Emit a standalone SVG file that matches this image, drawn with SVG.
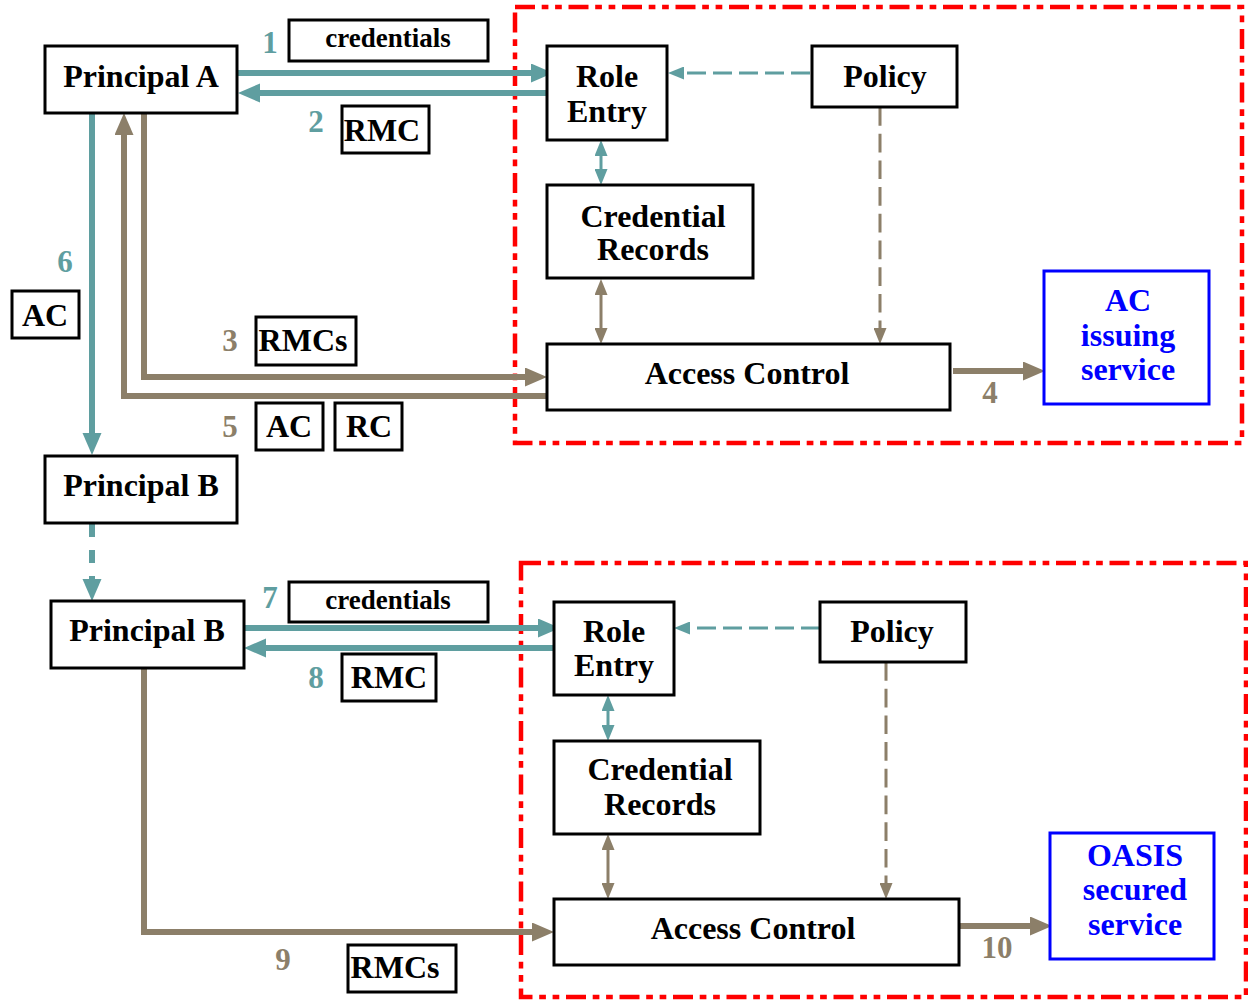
<svg xmlns="http://www.w3.org/2000/svg" width="1248" height="1003" viewBox="0 0 1248 1003">
<style>
  .box{fill:#fff;stroke:#000;stroke-width:3}
  .svc{fill:#fff;stroke:#0000FF;stroke-width:3}
  .zone{fill:none;stroke:#FF0000;stroke-width:4.5;stroke-dasharray:20 6.7 6.7 6.7 6.7 6.7}
  text{font-family:"Liberation Serif","Times New Roman",serif;font-weight:bold;text-anchor:middle}
  .t{font-size:32px;fill:#000}
  .tc{font-size:27px;fill:#000}
  .tb{font-size:32px;fill:#0000FF}
  .nt{font-size:31px;fill:#5F9EA0}
  .nb{font-size:31px;fill:#8C7F69}
  .teal{fill:none;stroke:#5F9EA0;stroke-width:6}
  .brown{fill:none;stroke:#8C7F69;stroke-width:6}
  .tealthin{fill:none;stroke:#5F9EA0;stroke-width:3}
  .brownthin{fill:none;stroke:#8C7F69;stroke-width:3}
  .dashT{stroke-dasharray:19 7}
  .dashB{stroke-dasharray:18.7 8}
  .dashV{stroke-dasharray:13 13}
</style>
<defs>
  <marker id="tL" markerUnits="userSpaceOnUse" markerWidth="23" markerHeight="20" refX="0" refY="9.5" orient="auto-start-reverse"><path d="M0,0 L22,9.5 L0,19 z" fill="#5F9EA0"/></marker>
  <marker id="bL" markerUnits="userSpaceOnUse" markerWidth="23" markerHeight="20" refX="0" refY="9.5" orient="auto-start-reverse"><path d="M0,0 L22,9.5 L0,19 z" fill="#8C7F69"/></marker>
  <marker id="tS" markerUnits="userSpaceOnUse" markerWidth="17" markerHeight="13" refX="0" refY="6.5" orient="auto-start-reverse"><path d="M0,0 L16,6.5 L0,13 z" fill="#5F9EA0"/></marker>
  <marker id="bS" markerUnits="userSpaceOnUse" markerWidth="17" markerHeight="13" refX="0" refY="6.5" orient="auto-start-reverse"><path d="M0,0 L16,6.5 L0,13 z" fill="#8C7F69"/></marker>
</defs>
<rect width="1248" height="1003" fill="#fff"/>

<!-- zones -->
<rect class="zone" x="515" y="7" width="727" height="436"/>
<rect class="zone" x="521" y="563" width="725" height="434"/>

<g id="connectors">
  <!-- top -->
  <path class="teal" d="M237,73 H531" marker-end="url(#tL)"/>
  <path class="teal" d="M547,93 H260" marker-end="url(#tL)"/>
  <path class="tealthin dashT" d="M810,73 H684" marker-end="url(#tS)"/>
  <path class="tealthin" d="M601,156 V169" marker-start="url(#tS)" marker-end="url(#tS)"/>
  <path class="brownthin" d="M601,295 V328" marker-start="url(#bS)" marker-end="url(#bS)"/>
  <path class="brownthin dashB" d="M880,107 V328" marker-end="url(#bS)"/>
  <path class="brown" d="M144,113 V377 H525" marker-end="url(#bL)"/>
  <path class="brown" d="M547,396 H124 V135" marker-end="url(#bL)"/>
  <path class="brown" d="M953,371 H1023" marker-end="url(#bL)"/>
  <path class="teal" d="M92,113 V433" marker-end="url(#tL)"/>
  <path class="teal dashV" d="M92,524 V579" marker-end="url(#tL)"/>
  <!-- bottom -->
  <path class="teal" d="M244,628 H538" marker-end="url(#tL)"/>
  <path class="teal" d="M554,648 H266" marker-end="url(#tL)"/>
  <path class="tealthin dashT" d="M820,628 H690" marker-end="url(#tS)"/>
  <path class="tealthin" d="M608,711 V725" marker-start="url(#tS)" marker-end="url(#tS)"/>
  <path class="brownthin" d="M608,850 V883" marker-start="url(#bS)" marker-end="url(#bS)"/>
  <path class="brownthin dashB" d="M886,662 V883" marker-end="url(#bS)"/>
  <path class="brown" d="M144,668 V932 H532" marker-end="url(#bL)"/>
  <path class="brown" d="M960,926 H1030" marker-end="url(#bL)"/>
</g>

<!-- top section nodes -->
<g id="principalA"><rect class="box" x="45" y="46" width="192" height="67"/><text class="t" x="141" y="87">Principal A</text></g>
<g id="credLabel1"><rect class="box" x="289" y="20" width="199" height="41"/><text class="tc" x="388" y="47">credentials</text></g>
<g id="rmcLabel1"><rect class="box" x="342" y="106" width="87" height="47"/><text class="t" x="382" y="141">RMC</text></g>
<g id="roleEntry1"><rect class="box" x="547" y="46" width="120" height="94"/><text class="t" x="607" y="87">Role</text><text class="t" x="607" y="122">Entry</text></g>
<g id="policy1"><rect class="box" x="812" y="46" width="145" height="61"/><text class="t" x="885" y="87">Policy</text></g>
<g id="credRecords1"><rect class="box" x="547" y="185" width="206" height="93"/><text class="t" x="653" y="227">Credential</text><text class="t" x="653" y="260">Records</text></g>
<g id="accessControl1"><rect class="box" x="547" y="344" width="403" height="66"/><text class="t" x="747" y="384">Access Control</text></g>
<g id="acIssuing"><rect class="svc" x="1044" y="271" width="165" height="133"/><text class="tb" x="1128" y="311">AC</text><text class="tb" x="1128" y="346">issuing</text><text class="tb" x="1128" y="380">service</text></g>
<g id="acLabel6"><rect class="box" x="12" y="291" width="67" height="47"/><text class="t" x="45" y="326">AC</text></g>
<g id="rmcsLabel3"><rect class="box" x="256" y="317" width="100" height="48"/><text class="t" x="303" y="351">RMCs</text></g>
<g id="acLabel5"><rect class="box" x="256" y="403" width="67" height="47"/><text class="t" x="289" y="437">AC</text></g>
<g id="rcLabel5"><rect class="box" x="335" y="403" width="67" height="47"/><text class="t" x="369" y="437">RC</text></g>
<g id="principalB1"><rect class="box" x="45" y="456" width="192" height="67"/><text class="t" x="141" y="496">Principal B</text></g>

<!-- bottom section nodes -->
<g id="principalB2"><rect class="box" x="51" y="601" width="193" height="67"/><text class="t" x="147" y="641">Principal B</text></g>
<g id="credLabel2"><rect class="box" x="289" y="582" width="199" height="40"/><text class="tc" x="388" y="609">credentials</text></g>
<g id="rmcLabel2"><rect class="box" x="342" y="654" width="94" height="47"/><text class="t" x="389" y="688">RMC</text></g>
<g id="rmcsLabel9"><rect class="box" x="348" y="945" width="108" height="47"/><text class="t" x="395" y="978">RMCs</text></g>
<g id="roleEntry2"><rect class="box" x="554" y="602" width="120" height="93"/><text class="t" x="614" y="642">Role</text><text class="t" x="614" y="676">Entry</text></g>
<g id="policy2"><rect class="box" x="820" y="602" width="146" height="60"/><text class="t" x="892" y="642">Policy</text></g>
<g id="credRecords2"><rect class="box" x="554" y="741" width="206" height="93"/><text class="t" x="660" y="780">Credential</text><text class="t" x="660" y="815">Records</text></g>
<g id="accessControl2"><rect class="box" x="554" y="899" width="405" height="66"/><text class="t" x="753" y="939">Access Control</text></g>
<g id="oasisService"><rect class="svc" x="1050" y="833" width="164" height="126"/><text class="tb" x="1135" y="866">OASIS</text><text class="tb" x="1135" y="900">secured</text><text class="tb" x="1135" y="935">service</text></g>

<!-- step numbers -->
<g id="steps">
  <text class="nt" x="270" y="53">1</text>
  <text class="nt" x="316" y="132">2</text>
  <text class="nb" x="230" y="351">3</text>
  <text class="nb" x="990" y="403">4</text>
  <text class="nb" x="230" y="437">5</text>
  <text class="nt" x="65" y="272">6</text>
  <text class="nt" x="270" y="608">7</text>
  <text class="nt" x="316" y="688">8</text>
  <text class="nb" x="283" y="970">9</text>
  <text class="nb" x="997" y="958">10</text>
</g>
</svg>
